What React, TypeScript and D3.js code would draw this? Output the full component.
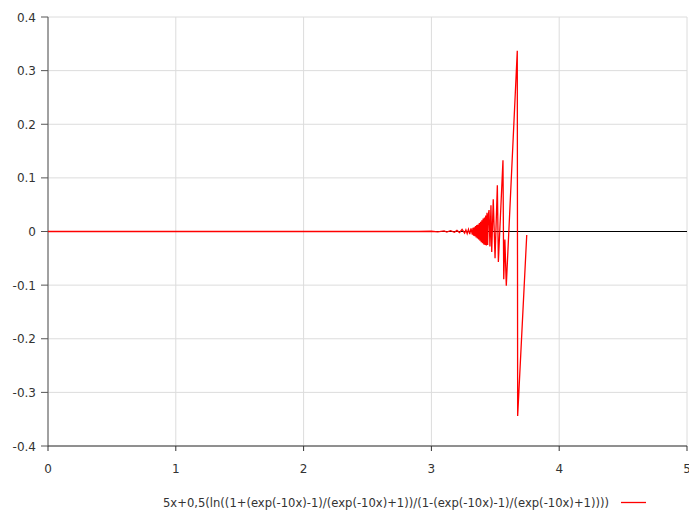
import React from "react";
import * as d3 from "d3";

const xTicks = [0, 1, 2, 3, 4, 5];
const yTicks = [-0.4, -0.3, -0.2, -0.1, 0, 0.1, 0.2, 0.3, 0.4];
const yTickLabels = ["-0.4", "-0.3", "-0.2", "-0.1", "0", "0.1", "0.2", "0.3", "0.4"];
const seriesName = "5x+0,5(ln((1+(exp(-10x)-1)/(exp(-10x)+1))/(1-(exp(-10x)-1)/(exp(-10x)+1))))";

const xValues = [
  0, 2.9, 3.0, 3.05, 3.1, 3.12, 3.15, 3.18, 3.2, 3.22, 3.24, 3.26, 3.27, 3.28, 3.29, 3.3,
  3.31, 3.32, 3.325, 3.33, 3.335, 3.34, 3.345, 3.35, 3.355, 3.36, 3.365, 3.37, 3.375, 3.38,
  3.385, 3.39, 3.395, 3.4, 3.405, 3.41, 3.415, 3.42, 3.425, 3.43, 3.435, 3.44, 3.445, 3.451,
  3.458, 3.466, 3.472, 3.484, 3.498, 3.516, 3.524, 3.56, 3.566, 3.575, 3.586, 3.672, 3.675, 3.746,
];
const yValues = [
  0, 0, 0.0005, -0.0008, 0.001, -0.001, 0.0015, -0.0015, 0.002, -0.002, 0.004, -0.003, 0.003, -0.004, 0.004, -0.005,
  0.006, -0.006, 0.007, -0.008, 0.008, -0.009, 0.01, -0.011, 0.012, -0.013, 0.013, -0.015, 0.016, -0.017,
  0.018, -0.02, 0.021, -0.022, 0.024, -0.024, 0.026, -0.025, 0.03, -0.026, 0.035, -0.025, 0.03, 0.04,
  -0.028, 0.049, -0.038, 0.06, -0.05, 0.086, -0.057, 0.133, -0.089, -0.015, -0.101, 0.337, -0.344, -0.0065,
];

const W = 689;
const H = 513;
const left = 48;
const right = 687;
const top = 17;
const bottom = 446;

export default function App() {
  const x = d3.scaleLinear().domain([0, 5]).range([left, right]);
  const y = d3.scaleLinear().domain([-0.4, 0.4]).range([bottom, top]);
  const data = xValues.map((v, i) => [v, yValues[i]] as [number, number]);
  const line = d3
    .line<[number, number]>()
    .x((d) => x(d[0]))
    .y((d) => y(d[1]));
  const font = "'DejaVu Sans', Verdana, sans-serif";
  const y0 = Math.floor(y(0)) + 0.5;
  return (
    <svg
      width={W}
      height={H}
      style={{ position: "absolute", left: 0, top: 0, background: "#fff" }}
    >
      {xTicks.map((t) => (
        <line key={"gx" + t} x1={x(t)} x2={x(t)} y1={top} y2={bottom} stroke="#dcdcdc" strokeWidth={1} />
      ))}
      {yTicks.map((t) => (
        <line key={"gy" + t} x1={left} x2={right} y1={y(t)} y2={y(t)} stroke="#dcdcdc" strokeWidth={1} />
      ))}
      <line x1={left} x2={right} y1={y0} y2={y0} stroke="#000" strokeWidth={1} />
      <line x1={left} x2={left} y1={top} y2={bottom} stroke="#555" strokeWidth={1} />
      <line x1={left} x2={right} y1={bottom} y2={bottom} stroke="#333" strokeWidth={1} />
      {yTicks.map((t, i) => (
        <g key={"ty" + t}>
          <line x1={left - 7} x2={left} y1={y(t)} y2={y(t)} stroke="#555" />
          <text
            x={left - 12}
            y={y(t)}
            dy="0.38em"
            textAnchor="end"
            fontFamily={font}
            fontSize={12}
            fill="#333"
          >
            {yTickLabels[i]}
          </text>
        </g>
      ))}
      {xTicks.map((t) => (
        <g key={"tx" + t}>
          <line x1={x(t)} x2={x(t)} y1={bottom} y2={bottom + 5} stroke="#333" />
          <text x={x(t)} y={bottom + 27} textAnchor="middle" fontFamily={font} fontSize={12} fill="#333">
            {t}
          </text>
        </g>
      ))}
      <path
        d={line(data) || ""}
        fill="none"
        stroke="#ff0000"
        strokeWidth={1.3}
        strokeLinejoin="miter"
        transform={`translate(0, ${y0 - y(0)})`}
      />
      <text
        x={163}
        y={507}
        fontFamily={font}
        fontSize={12}
        fill="#333"
        textLength={446}
        lengthAdjust="spacingAndGlyphs"
      >
        {seriesName}
      </text>
      <line x1={621} x2={646} y1={502.5} y2={502.5} stroke="#ff0000" strokeWidth={1.3} />
    </svg>
  );
}
